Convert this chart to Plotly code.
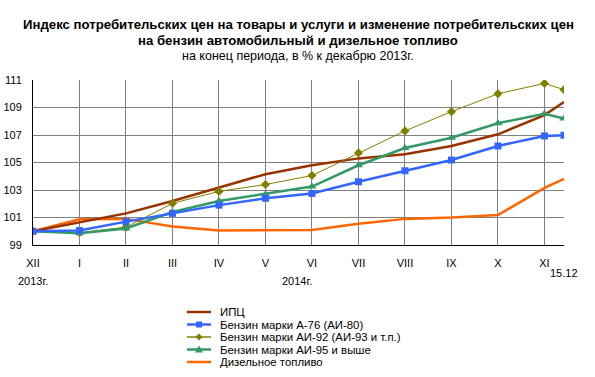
import plotly.graph_objects as go

# ---- data ----
x_pos = [0, 1, 2, 3, 4, 5, 6, 7, 8, 9, 10, 11, 11.42]
month_labels = ["XII", "I", "II", "III", "IV", "V", "VI", "VII", "VIII", "IX", "X", "XI"]
last_label = "15.12"

series_names = ["ИПЦ", "Бензин марки А-76 (АИ-80)", "Бензин марки АИ-92 (АИ-93 и т.п.)",
                "Бензин марки АИ-95 и выше", "Дизельное топливо"]
ipc = [100, 100.65, 101.3, 102.2, 103.15, 104.15, 104.8, 105.3, 105.6, 106.2, 107.05, 108.45, 109.4]
a76 = [100, 100.05, 100.7, 101.3, 101.9, 102.4, 102.75, 103.6, 104.4, 105.18, 106.2, 106.93, 106.98]
ai92 = [100, 99.9, 100.3, 102.03, 102.9, 103.4, 104.05, 105.7, 107.3, 108.7, 110.0, 110.75, 110.3]
ai95 = [100, 99.85, 100.2, 101.4, 102.2, 102.7, 103.25, 104.8, 106.05, 106.8, 107.85, 108.55, 108.2]
diesel = [100, 100.87, 100.9, 100.35, 100.05, 100.1, 100.1, 100.55, 100.9, 101.0, 101.18, 103.15, 103.8]
y_ticks = [99, 101, 103, 105, 107, 109, 111]

FONT = "Liberation Sans"
W, H = 595, 377
L, R, T, B = 33, 31, 80, 132
PW, PH = W - L - R, H - T - B

styles = {
    "ИПЦ": dict(color="#993300", width=2.5, symbol=None, msize=0),
    "Бензин марки А-76 (АИ-80)": dict(color="#3366FF", width=2.5, symbol="square", msize=7),
    "Бензин марки АИ-92 (АИ-93 и т.п.)": dict(color="#808000", width=1, symbol="diamond", msize=7),
    "Бензин марки АИ-95 и выше": dict(color="#339966", width=2.5, symbol="triangle-up", msize=8),
    "Дизельное топливо": dict(color="#FF6600", width=2.5, symbol=None, msize=0),
}
values = dict(zip(series_names, [ipc, a76, ai92, ai95, diesel]))
draw_order = ["Дизельное топливо", "ИПЦ", "Бензин марки АИ-92 (АИ-93 и т.п.)",
              "Бензин марки АИ-95 и выше", "Бензин марки А-76 (АИ-80)"]

fig = go.Figure()
for name in draw_order:
    st = styles[name]
    kw = dict(mode="lines", line=dict(color=st["color"], width=st["width"]))
    if st["symbol"]:
        kw["mode"] = "lines+markers"
        kw["marker"] = dict(symbol=st["symbol"], size=st["msize"], color=st["color"])
    fig.add_trace(go.Scatter(x=x_pos, y=values[name], name=name, showlegend=False,
                             hoverinfo="skip", **kw))

def px_x(p):
    return (p - L) / PW

def px_y(p):
    return (H - B - p) / PH

annotations = []
shapes = []
# titles
titles = [
    ("<b>Индекс потребительских цен на товары и услуги и изменение потребительских цен</b>", 24, 13.2),
    ("<b>на бензин автомобильный и дизельное топливо</b>", 40, 13.2),
    ("на конец периода, в % к декабрю 2013г.", 56, 12.5),
]
for txt, yp, fs in titles:
    annotations.append(dict(text=txt, xref="paper", yref="paper", x=px_x(298), y=px_y(yp),
                            xanchor="center", yanchor="middle", showarrow=False,
                            font=dict(family=FONT, size=fs, color="black")))
# year labels & final date label
annotations.append(dict(text="2013г.", xref="paper", yref="paper", x=px_x(33), y=px_y(281),
                        xanchor="center", yanchor="middle", showarrow=False,
                        font=dict(family=FONT, size=11, color="black")))
annotations.append(dict(text="2014г.", xref="paper", yref="paper", x=px_x(297), y=px_y(281),
                        xanchor="center", yanchor="middle", showarrow=False,
                        font=dict(family=FONT, size=11, color="black")))
annotations.append(dict(text=last_label, xref="x", yref="paper", x=x_pos[-1], y=px_y(273),
                        xanchor="center", yanchor="middle", showarrow=False,
                        font=dict(family=FONT, size=11, color="black")))

# manual legend
row0, dy = 312, 12.5
lx0, lx1, tx = 187, 211, 218
marker_paths = {
    "square": "M-3,-3 L3,-3 L3,3 L-3,3 Z",
    "diamond": "M0,-3.5 L3.5,0 L0,3.5 L-3.5,0 Z",
    "triangle-up": "M0,4 L4,-3 L-4,-3 Z",
}
for i, name in enumerate(series_names):
    st = styles[name]
    yp = row0 + i * dy
    shapes.append(dict(type="line", xref="paper", yref="paper", x0=px_x(lx0), x1=px_x(lx1),
                       y0=px_y(yp), y1=px_y(yp), line=dict(color=st["color"], width=max(st["width"], 1.5))))
    if st["symbol"]:
        shapes.append(dict(type="path", xref="paper", yref="paper", xsizemode="pixel", ysizemode="pixel",
                           xanchor=px_x((lx0 + lx1) / 2), yanchor=px_y(yp),
                           path=marker_paths[st["symbol"]], fillcolor=st["color"],
                           line=dict(color=st["color"], width=0)))
    annotations.append(dict(text=name, xref="paper", yref="paper", x=px_x(tx), y=px_y(yp),
                            xanchor="left", yanchor="middle", showarrow=False,
                            font=dict(family=FONT, size=11.4, color="black")))

fig.update_layout(
    width=W, height=H, margin=dict(l=L, r=R, t=T, b=B, pad=0, autoexpand=False),
    paper_bgcolor="white", plot_bgcolor="white",
    showlegend=False, hovermode=False,
    font=dict(family=FONT, size=11, color="black"),
    xaxis=dict(range=[0, x_pos[-1]], tickmode="array", tickvals=x_pos[:12], ticktext=month_labels,
               showgrid=True, gridcolor="#808080", gridwidth=1, zeroline=False, automargin=False,
               showline=True, linecolor="black", linewidth=1, ticks="", ticklabelstandoff=8,
               tickfont=dict(family=FONT, size=11, color="black"), fixedrange=True),
    yaxis=dict(range=[99, 111], tickmode="array", tickvals=y_ticks,
               showgrid=True, gridcolor="#808080", gridwidth=1, zeroline=False, automargin=False,
               showline=True, linecolor="black", linewidth=1, ticks="", ticklabelstandoff=8,
               tickfont=dict(family=FONT, size=11, color="black"), fixedrange=True),
    annotations=annotations, shapes=shapes,
)

# remove the browser's default 8px page margin so the figure fills the window exactly
fig.write_html("out.html", config={"displayModeBar": False, "staticPlot": True},
               post_script="document.body.style.margin='0';")
